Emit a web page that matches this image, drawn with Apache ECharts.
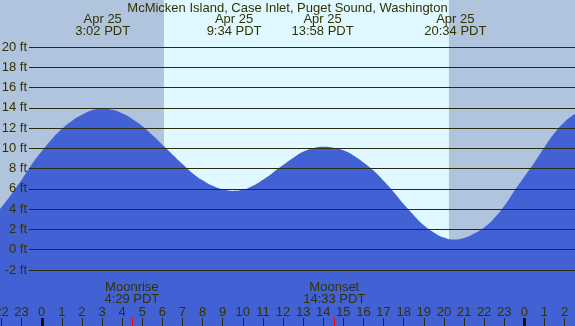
<!DOCTYPE html>
<html><head><meta charset="utf-8">
<script src="https://cdn.jsdelivr.net/npm/echarts@6/dist/echarts.min.js"></script>
<style>html,body{margin:0;padding:0;background:#b0c4de}#c{width:575px;height:326px}</style>
</head><body><div id="c"></div>
<script>
const chartTitle = 'McMicken Island, Case Inlet, Puget Sound, Washington';
const tideHours = [-2.5,-2,-1.5,-1,-0.5,0,0.5,1,1.5,2,2.5,3,3.5,4,4.5,5,5.5,6,6.5,7,7.5,8,8.5,9,9.5,10,10.5,11,11.5,12,12.5,13,13.5,14,14.5,15,15.5,16,16.5,17,17.5,18,18.5,19,19.5,20,20.5,21,21.5,22,22.5,23,23.5,24,24.5,25,25.5,26,26.5,27];
const tideFeet = [3.0,4.2,5.5,6.9,8.4,9.7,10.9,11.9,12.7,13.3,13.75,13.9,13.8,13.45,12.9,12.2,11.3,10.35,9.4,8.45,7.55,6.85,6.3,5.95,5.8,5.9,6.3,6.9,7.6,8.35,9.05,9.65,10.0,10.15,10.05,9.8,9.3,8.6,7.8,6.8,5.7,4.5,3.4,2.4,1.7,1.2,1.0,1.15,1.6,2.2,3.1,4.3,5.8,7.2,8.6,10.1,11.5,12.6,13.35,13.8];
const eventHours = [3.033, 9.567, 13.967, 20.567];
const eventDates = ['Apr 25','Apr 25','Apr 25','Apr 25'];
const eventTimes = ['3:02 PDT','9:34 PDT','13:58 PDT','20:34 PDT'];
const sunriseHour = 6.08, sunsetHour = 20.25;
const moonHours = [4.483, 14.55];
const moonNames = ['Moonrise','Moonset'];
const moonTimes = ['4:29 PDT','14:33 PDT'];
const midnightHours = [0, 24];
const hourTicks = [-2,-1,0,1,2,3,4,5,6,7,8,9,10,11,12,13,14,15,16,17,18,19,20,21,22,23,24,25,26];
const yTickLabels = [-2,0,2,4,6,8,10,12,14,16,18,20];
const hourMin = -2.0736, hourMax = 26.519;
const feetMin = -7.525, feetMax = 24.625;

const NIGHT = '#b0c4de', DAY = '#e0f8ff', WATER = '#4161d5', INK = '#333300', LINE = '#2a2a10';
const FONT = '"Liberation Sans", Arial, sans-serif';

const chart = echarts.init(document.getElementById('c'), null, {renderer:'canvas'});
const tideData = tideHours.map((h,i)=>[h, tideFeet[i]]);

chart.setOption({
  animation:false,
  backgroundColor: NIGHT,
  title:{text:chartTitle, left:'center', top:1, padding:0, textStyle:{fontSize:13, fontWeight:'normal', color:INK, fontFamily:FONT, lineHeight:14}},
  grid:[
    {left:0, right:0, top:0, bottom:0, containLabel:false, outerBoundsMode:'none'},
    {left:29, right:0, top:47, height:223, containLabel:false, outerBoundsMode:'none'}
  ],
  xAxis:[
    {gridIndex:0, type:'value', min:hourMin, max:hourMax, z:6, position:'bottom',
      axisLine:{show:false, onZero:false}, splitLine:{show:false},
      axisTick:{inside:true, length:8, customValues:hourTicks, lineStyle:{color:LINE, width:1}},
      axisLabel:{inside:true, margin:7, color:INK, fontSize:13, fontFamily:FONT, customValues:hourTicks,
        hideOverlap:false, align:'center',
        formatter:v=>String(((Math.round(v)%24)+24)%24)}},
    {gridIndex:1, type:'value', min:0, max:1, show:false}
  ],
  yAxis:[
    {gridIndex:0, type:'value', min:feetMin, max:feetMax, show:false},
    {gridIndex:1, type:'value', min:-2, max:20, interval:2, z:5,
      axisLine:{show:false}, axisTick:{show:false},
      splitLine:{show:true, lineStyle:{color:LINE, width:1}},
      axisLabel:{margin:2, color:INK, fontSize:13, fontFamily:FONT,
        formatter:v=>yTickLabels.includes(v)? v+' ft' : ''}}
  ],
  series:[
    {type:'line', xAxisIndex:0, yAxisIndex:0, z:1, data:[[sunriseHour,0],[sunsetHour,0]], showSymbol:false, lineStyle:{opacity:0}, silent:true,
      markArea:{silent:true, itemStyle:{color:DAY}, data:[[{xAxis:sunriseHour},{xAxis:sunsetHour}]]}},
    {type:'line', xAxisIndex:0, yAxisIndex:0, z:2, data:tideData, smooth:true, showSymbol:false,
      lineStyle:{width:0}, areaStyle:{color:WATER, opacity:1, origin:'start'}}
  ]
});

const px = h => chart.convertToPixel({xAxisIndex:0}, h);
const g = [];
const txt = (t,x,y)=>({type:'text', z:10, style:{text:t, x:x, y:y, fill:INK, font:'13px '+FONT, align:'center', verticalAlign:'middle'}});
eventHours.forEach((h,i)=>{ const x=px(h); g.push(txt(eventDates[i], x, 19.5)); g.push(txt(eventTimes[i], x, 31)); });
moonHours.forEach((h,i)=>{ const x=px(h); g.push(txt(moonNames[i], x, 287.5)); g.push(txt(moonTimes[i], x, 299));
  g.push({type:'rect', z:10, shape:{x:Math.round(x), y:318, width:1, height:8}, style:{fill:'#ff0000'}}); });
midnightHours.forEach(h=>{ const x=px(h); g.push({type:'rect', z:10, shape:{x:Math.round(x)-1, y:318, width:3, height:8}, style:{fill:'#111'}}); });
chart.setOption({graphic:g});
</script></body></html>
